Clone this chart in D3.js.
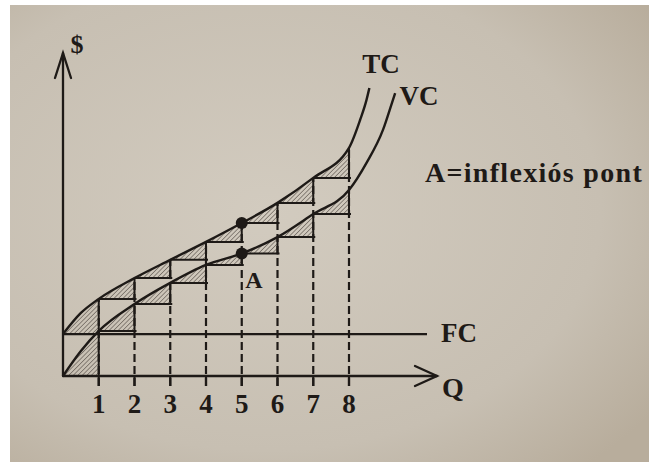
<!DOCTYPE html>
<html>
<head>
<meta charset="utf-8">
<script src="https://cdn.jsdelivr.net/npm/d3@7"></script>
<style>
  html, body { margin: 0; padding: 0; background: #ffffff; }
  svg { display: block; }
  text { font-family: "Liberation Serif", "DejaVu Serif", serif; font-weight: bold; fill: #1e1a17; }
</style>
</head>
<body>
<svg id="chart" width="649" height="466"></svg>
<script>
// ---- data ----
const qTC = [0, 0.5, 1, 2, 3, 4, 5, 6, 7, 8, 8.31, 8.49, 8.57];
const tcValues = [13.1, 19.7, 24.1, 30.6, 36.3, 41.9, 47.8, 54.1, 61.9, 71.3, 80, 86.3, 90];
const qVC = [0, 0.5, 1, 2, 3, 4, 5, 6, 7, 8, 8.49, 8.95, 9.2, 9.29];
const vcValues = [0, 7.8, 14.1, 22.5, 29.1, 34.7, 38.3, 43.4, 50.6, 58.1, 66.6, 76.9, 85.3, 88.4];
const fcValue = 13.1;
const qTicks = [1, 2, 3, 4, 5, 6, 7, 8];
const tickLabels = ["1", "2", "3", "4", "5", "6", "7", "8"];
const inflexionQ = 5;
const labels = { y: "$", x: "Q", tc: "TC", vc: "VC", fc: "FC", a: "A", note: "A=inflexiós pont" };

// ---- layout ----
const ink = "#1e1a17";
const svg = d3.select("#chart");
const x = d3.scaleLinear().domain([0, 8]).range([63, 349]);
const y = d3.scaleLinear().domain([0, 100]).range([376, 56]);

const defs = svg.append("defs");
const bg = defs.append("radialGradient").attr("id", "paper")
  .attr("cx", "40%").attr("cy", "45%").attr("r", "75%");
bg.append("stop").attr("offset", "0%").attr("stop-color", "#d2cbbf");
bg.append("stop").attr("offset", "70%").attr("stop-color", "#c7bfb2");
bg.append("stop").attr("offset", "100%").attr("stop-color", "#b8ad9c");

const pat = defs.append("pattern").attr("id", "hatch")
  .attr("patternUnits", "userSpaceOnUse").attr("width", 3.2).attr("height", 3.2)
  .attr("patternTransform", "rotate(45)");
pat.append("line").attr("x1", 0).attr("y1", 0).attr("x2", 0).attr("y2", 3.2)
  .attr("stroke", "#5a534c").attr("stroke-width", 1.2);

svg.append("rect").attr("x", 10).attr("y", 5).attr("width", 639).attr("height", 457)
  .attr("fill", "url(#paper)");

const tcPts = qTC.map((q, i) => [q, tcValues[i]]);
const vcPts = qVC.map((q, i) => [q, vcValues[i]]);
const valAt = (pts, q) => pts.find(p => p[0] === q)[1];

const line = d3.line().x(d => x(d[0])).y(d => y(d[1])).curve(d3.curveMonotoneX);
const under = d3.area().x(d => x(d[0])).y0(y(-5)).y1(d => y(d[1])).curve(d3.curveMonotoneX);

defs.append("clipPath").attr("id", "clipTC").append("path").attr("d", under(tcPts));
defs.append("clipPath").attr("id", "clipVC").append("path").attr("d", under(vcPts));

// hatched marginal-cost triangles
function hatch(pts, clipId) {
  const g = svg.append("g").attr("clip-path", `url(#${clipId})`);
  const steps = [0].concat(qTicks.slice(0, -1));
  g.selectAll("rect").data(steps).enter().append("rect")
    .attr("x", q => x(q))
    .attr("width", q => x(q + 1) - x(q))
    .attr("y", q => y(valAt(pts, q + 1)))
    .attr("height", q => y(valAt(pts, q)) - y(valAt(pts, q + 1)))
    .attr("fill", "url(#hatch)");
}
hatch(tcPts, "clipTC");
hatch(vcPts, "clipVC");

// dashed verticals from the Q axis to TC
svg.append("g").selectAll("line").data(qTicks).enter().append("line")
  .attr("x1", q => x(q)).attr("x2", q => x(q))
  .attr("y1", y(0) + 10).attr("y2", q => y(valAt(tcPts, q)))
  .attr("stroke", ink).attr("stroke-width", 2.2).attr("stroke-dasharray", "8,4");

// tick marks below axis
svg.append("g").selectAll("line").data(qTicks).enter().append("line")
  .attr("x1", q => x(q)).attr("x2", q => x(q))
  .attr("y1", y(0)).attr("y2", y(0) + 10)
  .attr("stroke", ink).attr("stroke-width", 2.2);

// step lines (horizontal + vertical)
function steps(pts) {
  const g = svg.append("g").attr("stroke", ink).attr("stroke-width", 2).attr("fill", "none");
  qTicks.slice(0, -1).forEach(q => {
    g.append("line").attr("x1", x(q)).attr("x2", x(q + 1) + 2)
      .attr("y1", y(valAt(pts, q))).attr("y2", y(valAt(pts, q)));
  });
  [0].concat(qTicks.slice(0, -1)).forEach(q => {
    g.append("line").attr("x1", x(q + 1)).attr("x2", x(q + 1))
      .attr("y1", y(valAt(pts, q)) + 1).attr("y2", y(valAt(pts, q + 1)));
  });
}
steps(tcPts);
steps(vcPts);

// FC line
svg.append("line").attr("x1", x(0)).attr("x2", 427)
  .attr("y1", y(fcValue)).attr("y2", y(fcValue))
  .attr("stroke", ink).attr("stroke-width", 2.3);

// axes
const axes = svg.append("g").attr("stroke", ink).attr("stroke-width", 2.3).attr("fill", "none")
  .attr("stroke-linecap", "round");
axes.append("line").attr("x1", x(0)).attr("x2", x(0)).attr("y1", y(0)).attr("y2", 53);
axes.append("path").attr("d", `M${x(0) - 8},78 L${x(0)},53 L${x(0) + 8},78`);
axes.append("line").attr("x1", x(0)).attr("x2", 437).attr("y1", y(0)).attr("y2", y(0));
axes.append("path").attr("d", `M415,${y(0) - 10} L437,${y(0)} L415,${y(0) + 10}`);

// curves
svg.append("path").attr("d", line(tcPts)).attr("fill", "none").attr("stroke", ink).attr("stroke-width", 2.4);
svg.append("path").attr("d", line(vcPts)).attr("fill", "none").attr("stroke", ink).attr("stroke-width", 2.4);

// inflexion points
svg.append("circle").attr("cx", x(inflexionQ)).attr("cy", y(valAt(tcPts, inflexionQ))).attr("r", 6).attr("fill", ink);
svg.append("circle").attr("cx", x(inflexionQ)).attr("cy", y(valAt(vcPts, inflexionQ))).attr("r", 6).attr("fill", ink);

// tick labels
svg.append("g").selectAll("text").data(qTicks).enter().append("text")
  .attr("x", q => x(q)).attr("y", 413).attr("text-anchor", "middle")
  .style("font-size", "27px").text((q, i) => tickLabels[i]);

// labels
const lab = (t, px, py, size, anchor) => svg.append("text").attr("x", px).attr("y", py)
  .attr("text-anchor", anchor || "start").style("font-size", size + "px").text(t);
lab(labels.y, 77, 53, 26, "middle");
lab(labels.x, 442, 397, 28);
lab(labels.tc, 381, 73, 27, "middle");
lab(labels.vc, 419, 105, 27, "middle");
lab(labels.fc, 441, 342, 27);
lab(labels.a, 254, 288, 24, "middle");
lab(labels.note, 425, 182, 28).style("letter-spacing", "1.3px");
</script>
</body>
</html>
